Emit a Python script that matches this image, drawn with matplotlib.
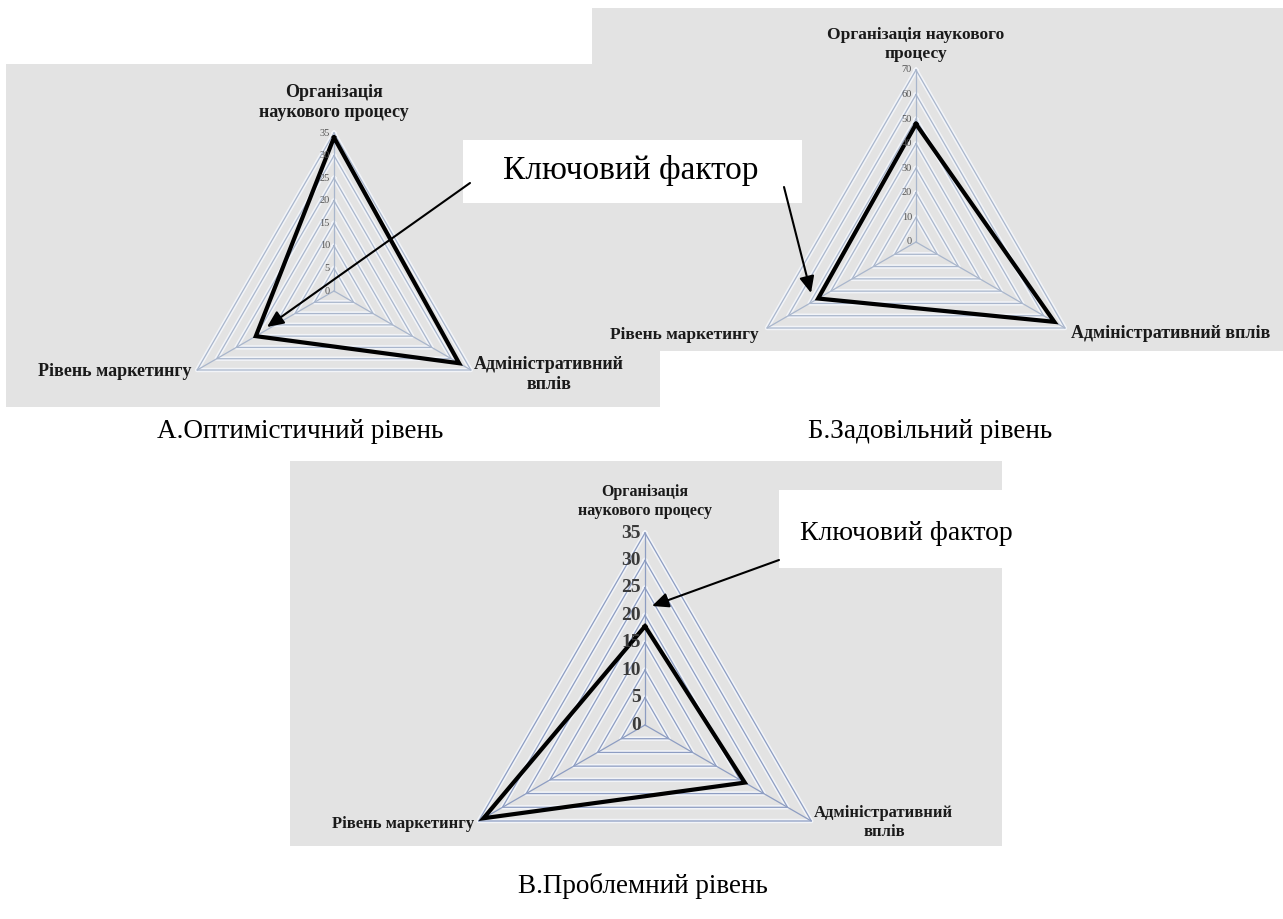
import numpy as np
import matplotlib
matplotlib.use('Agg')
import matplotlib.pyplot as plt
from matplotlib.patches import Rectangle
from matplotlib.transforms import offset_copy

W, H = 1283, 919

# data
categories = ['Організація наукового процесу', 'Адміністративний вплів', 'Рівень маркетингу']
values_a = [34, 32, 20]
values_b = [48, 65, 46]
values_c = [18, 21, 34]
ticks_a = [0, 5, 10, 15, 20, 25, 30, 35]
ticks_b = [0, 10, 20, 30, 40, 50, 60, 70]
ticks_c = [0, 5, 10, 15, 20, 25, 30, 35]
captions = ['А.Оптимістичний рівень', 'Б.Задовільний рівень', 'В.Проблемний рівень']
key_text = 'Ключовий фактор'

SERIF = ['Liberation Serif', 'DejaVu Serif']
BG = '#e3e3e3'

fig = plt.figure(figsize=(W / 100, H / 100), dpi=100)
fig.patch.set_facecolor('white')


def box(x0, y0, x1, y1):
    # pixel box (top-left origin) -> figure fraction
    return [x0 / W, 1 - y1 / H, (x1 - x0) / W, (y1 - y0) / H]


def panel(x0, y0, x1, y1):
    bg = fig.add_axes(box(x0, y0, x1, y1))
    bg.set_facecolor(BG)
    bg.set_xticks([])
    bg.set_yticks([])
    for s in bg.spines.values():
        s.set_visible(False)
    return bg


def off(ax, dx, dy):
    return offset_copy(ax.transData, fig=fig, x=dx, y=dy, units='dots')


def radar(cx, cy, rx, ry, vals, ticks, grid='#a9b6cc', tick_kw=None):
    ax = fig.add_axes(box(cx - rx, cy - ry, cx + rx, cy + ry), projection='polar')
    ax.set_aspect('auto')
    ax.set_theta_zero_location('N')
    ax.set_theta_direction(-1)
    ax.set_ylim(0, ticks[-1])
    ax.set_axis_off()
    theta = np.linspace(0, 2 * np.pi, 4)
    for t in ticks[1:]:
        ax.plot(theta, [t] * 4, color='#f2f4f8', lw=3.2, clip_on=False)
        ax.plot(theta, [t] * 4, color=grid, lw=0.9, clip_on=False)
    for th in theta[:3]:
        ax.plot([th, th], [0, ticks[-1]], color=grid, lw=0.9, clip_on=False)
    ax.plot(theta, vals + vals[:1], color='black', lw=3, clip_on=False,
            solid_joinstyle='miter')
    kw = dict(fontsize=7.5, color='#555555', family=SERIF)
    if tick_kw:
        kw.update(tick_kw)
    for t in ticks:
        ax.text(0, t, str(t), transform=off(ax, -4, 0), ha='right', va='center', **kw)
    return ax


lab = dict(family=SERIF, fontweight='bold', color='#1a1a1a')

# ---- panel A
panel(6, 64, 660, 407)
ax = radar(334, 291, 158, 158, values_a, ticks_a)
ax.text(0, 35, 'Організація\nнаукового процесу', transform=off(ax, 0, 12),
        ha='center', va='bottom', fontsize=13, linespacing=1.25, **lab)
ax.text(4 * np.pi / 3, 35, categories[2], transform=off(ax, -6, -2),
        ha='right', va='center', fontsize=13, **lab)
ax.text(2 * np.pi / 3, 35, 'Адміністративний\nвплів', transform=off(ax, 3, 14),
        ha='left', va='top', multialignment='center', fontsize=13, linespacing=1.25, **lab)

# ---- panel B
panel(592, 8, 1283, 351)
ax = radar(916, 242, 172, 172, values_b, ticks_b)
ax.text(0, 70, 'Організація наукового\nпроцесу', transform=off(ax, 0, 8),
        ha='center', va='bottom', fontsize=12.5, linespacing=1.25, **lab)
ax.text(4 * np.pi / 3, 70, categories[2], transform=off(ax, -8, -7),
        ha='right', va='center', fontsize=12.5, **lab)
ax.text(2 * np.pi / 3, 70, categories[1], transform=off(ax, 6, -5),
        ha='left', va='center', fontsize=13, **lab)

# ---- panel C
panel(290, 461, 1002, 846)
ax = radar(645, 725, 192, 192, values_c, ticks_c, grid='#8d9dc2',
           tick_kw=dict(fontsize=14, fontweight='bold', color='#3a3a3a'))
ax.text(0, 35, 'Організація\nнаукового процесу', transform=off(ax, 0, 14),
        ha='center', va='bottom', fontsize=11.5, linespacing=1.25, **lab)
ax.text(4 * np.pi / 3, 35, categories[2], transform=off(ax, -4, -3),
        ha='right', va='center', fontsize=12, **lab)
ax.text(2 * np.pi / 3, 35, 'Адміністративний\nвплів', transform=off(ax, 3, 16),
        ha='left', va='top', multialignment='center', fontsize=12, linespacing=1.25, **lab)

# ---- overlay: callout boxes, arrows, captions
ov = fig.add_axes([0, 0, 1, 1])
ov.set_xlim(0, W)
ov.set_ylim(H, 0)
ov.set_axis_off()
ov.patch.set_alpha(0)

ov.add_patch(Rectangle((463, 140), 339, 63, facecolor='white', edgecolor='none'))
ov.text(503, 171, key_text, ha='left', va='center', fontsize=24, family=SERIF)
ov.add_patch(Rectangle((779, 490), 223, 78, facecolor='white', edgecolor='none'))
ov.text(800, 533, key_text, ha='left', va='center', fontsize=20, family=SERIF)

arrow = dict(arrowstyle='-|>,head_length=1.0,head_width=0.45', color='black', lw=1.5,
             shrinkA=0, shrinkB=0)
ov.annotate('', xy=(267, 327), xytext=(470, 183), arrowprops=arrow)
ov.annotate('', xy=(811, 293), xytext=(784, 187), arrowprops=arrow)
ov.annotate('', xy=(652, 606), xytext=(779, 560), arrowprops=arrow)

ov.text(300, 432, captions[0], ha='center', va='center', fontsize=19.5, family=SERIF)
ov.text(930, 432, captions[1], ha='center', va='center', fontsize=19.5, family=SERIF)
ov.text(643, 886, captions[2], ha='center', va='center', fontsize=19.5, family=SERIF)

fig.savefig('out.png', dpi=100)
